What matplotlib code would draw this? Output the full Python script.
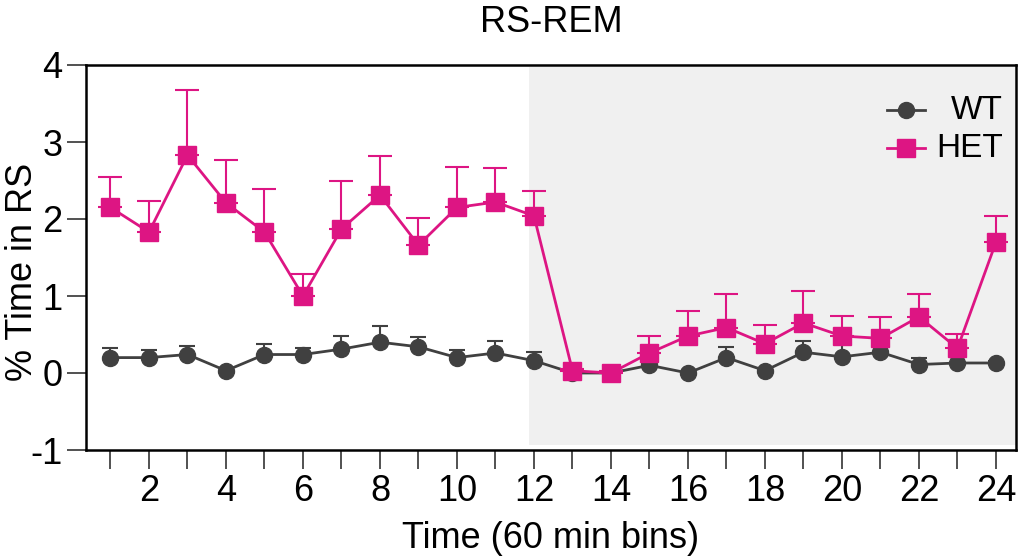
import numpy as np
import matplotlib
matplotlib.use('Agg')
import matplotlib.pyplot as plt

plt.rcParams['font.family'] = ['Liberation Sans', 'DejaVu Sans']
plt.rcParams['axes.unicode_minus'] = False

bins = np.arange(1, 25)

wt_mean = [0.20, 0.20, 0.24, 0.03, 0.24, 0.24, 0.31, 0.40, 0.34, 0.20, 0.26, 0.16,
           0.00, 0.00, 0.10, 0.00, 0.20, 0.03, 0.27, 0.21, 0.27, 0.11, 0.13, 0.13]
wt_err = [0.12, 0.10, 0.11, 0.00, 0.14, 0.08, 0.17, 0.21, 0.13, 0.10, 0.16, 0.11,
          0.02, 0.02, 0.03, 0.01, 0.14, 0.01, 0.15, 0.19, 0.15, 0.09, 0.08, 0.03]
het_mean = [2.15, 1.83, 2.83, 2.21, 1.83, 1.00, 1.87, 2.31, 1.66, 2.15, 2.22, 2.04,
            0.03, 0.00, 0.26, 0.48, 0.59, 0.38, 0.65, 0.48, 0.45, 0.73, 0.32, 1.70]
het_err = [0.39, 0.41, 0.85, 0.55, 0.56, 0.28, 0.63, 0.51, 0.35, 0.53, 0.44, 0.32,
           0.02, 0.02, 0.22, 0.33, 0.43, 0.24, 0.41, 0.26, 0.28, 0.30, 0.19, 0.34]

wt_col = '#404040'
het_col = '#dd1583'

fig = plt.figure(figsize=(10.24, 5.6), dpi=100)
ax = fig.add_axes([86/1024, 110/560, 930/1024, 385/560])

# dark phase shading
ax.axvspan(11.87, 24.52, ymin=0.013, ymax=0.995, color='#f0f0f0', lw=0, zorder=0)

ax.errorbar(bins, wt_mean, yerr=[np.zeros(24), wt_err], fmt='none',
            ecolor=wt_col, elinewidth=1.5, capsize=6, capthick=1.5, zorder=2)
ax.plot(bins, wt_mean, color=wt_col, lw=2, marker='o', ms=11.5, zorder=3)

ax.errorbar(bins, het_mean, yerr=[np.zeros(24), het_err], fmt='none',
            ecolor=het_col, elinewidth=1.5, capsize=8.5, capthick=1.5, zorder=4)
ax.plot(bins, het_mean, color=het_col, lw=2, marker='s', ms=13.5, zorder=5)

ax.set_xlim(0.364, 24.52)
ax.set_ylim(-1, 4)
ax.set_xticks(bins)
ax.set_xticklabels([str(b) if b % 2 == 0 else '' for b in bins])
ax.set_yticks([-1, 0, 1, 2, 3, 4])
ax.tick_params(axis='both', direction='out', length=14, width=1.2,
               color='#333333', labelsize=26, pad=3)
for s in ax.spines.values():
    s.set_linewidth(1.8)
    s.set_color('black')

ax.set_title('RS-REM', fontsize=26, pad=24)
ax.set_xlabel('Time (60 min bins)', fontsize=26, labelpad=9)
ax.set_ylabel('% Time in RS', fontsize=26)
ax.yaxis.set_label_coords(-0.0495, 0.462)

# legend drawn by hand so text is right aligned
for yy, col, mk, ms, lab in [(0.883, wt_col, 'o', 11.5, 'WT'),
                             (0.784, het_col, 's', 13.5, 'HET')]:
    ax.plot([0.861, 0.902], [yy, yy], color=col, lw=2, transform=ax.transAxes, zorder=6)
    ax.plot([0.8815], [yy], color=col, marker=mk, ms=ms, transform=ax.transAxes, zorder=6)
    ax.text(0.986, yy, lab, transform=ax.transAxes, ha='right', va='center',
            fontsize=24, zorder=6)

plt.savefig('out.png', dpi=100)
plt.close()
